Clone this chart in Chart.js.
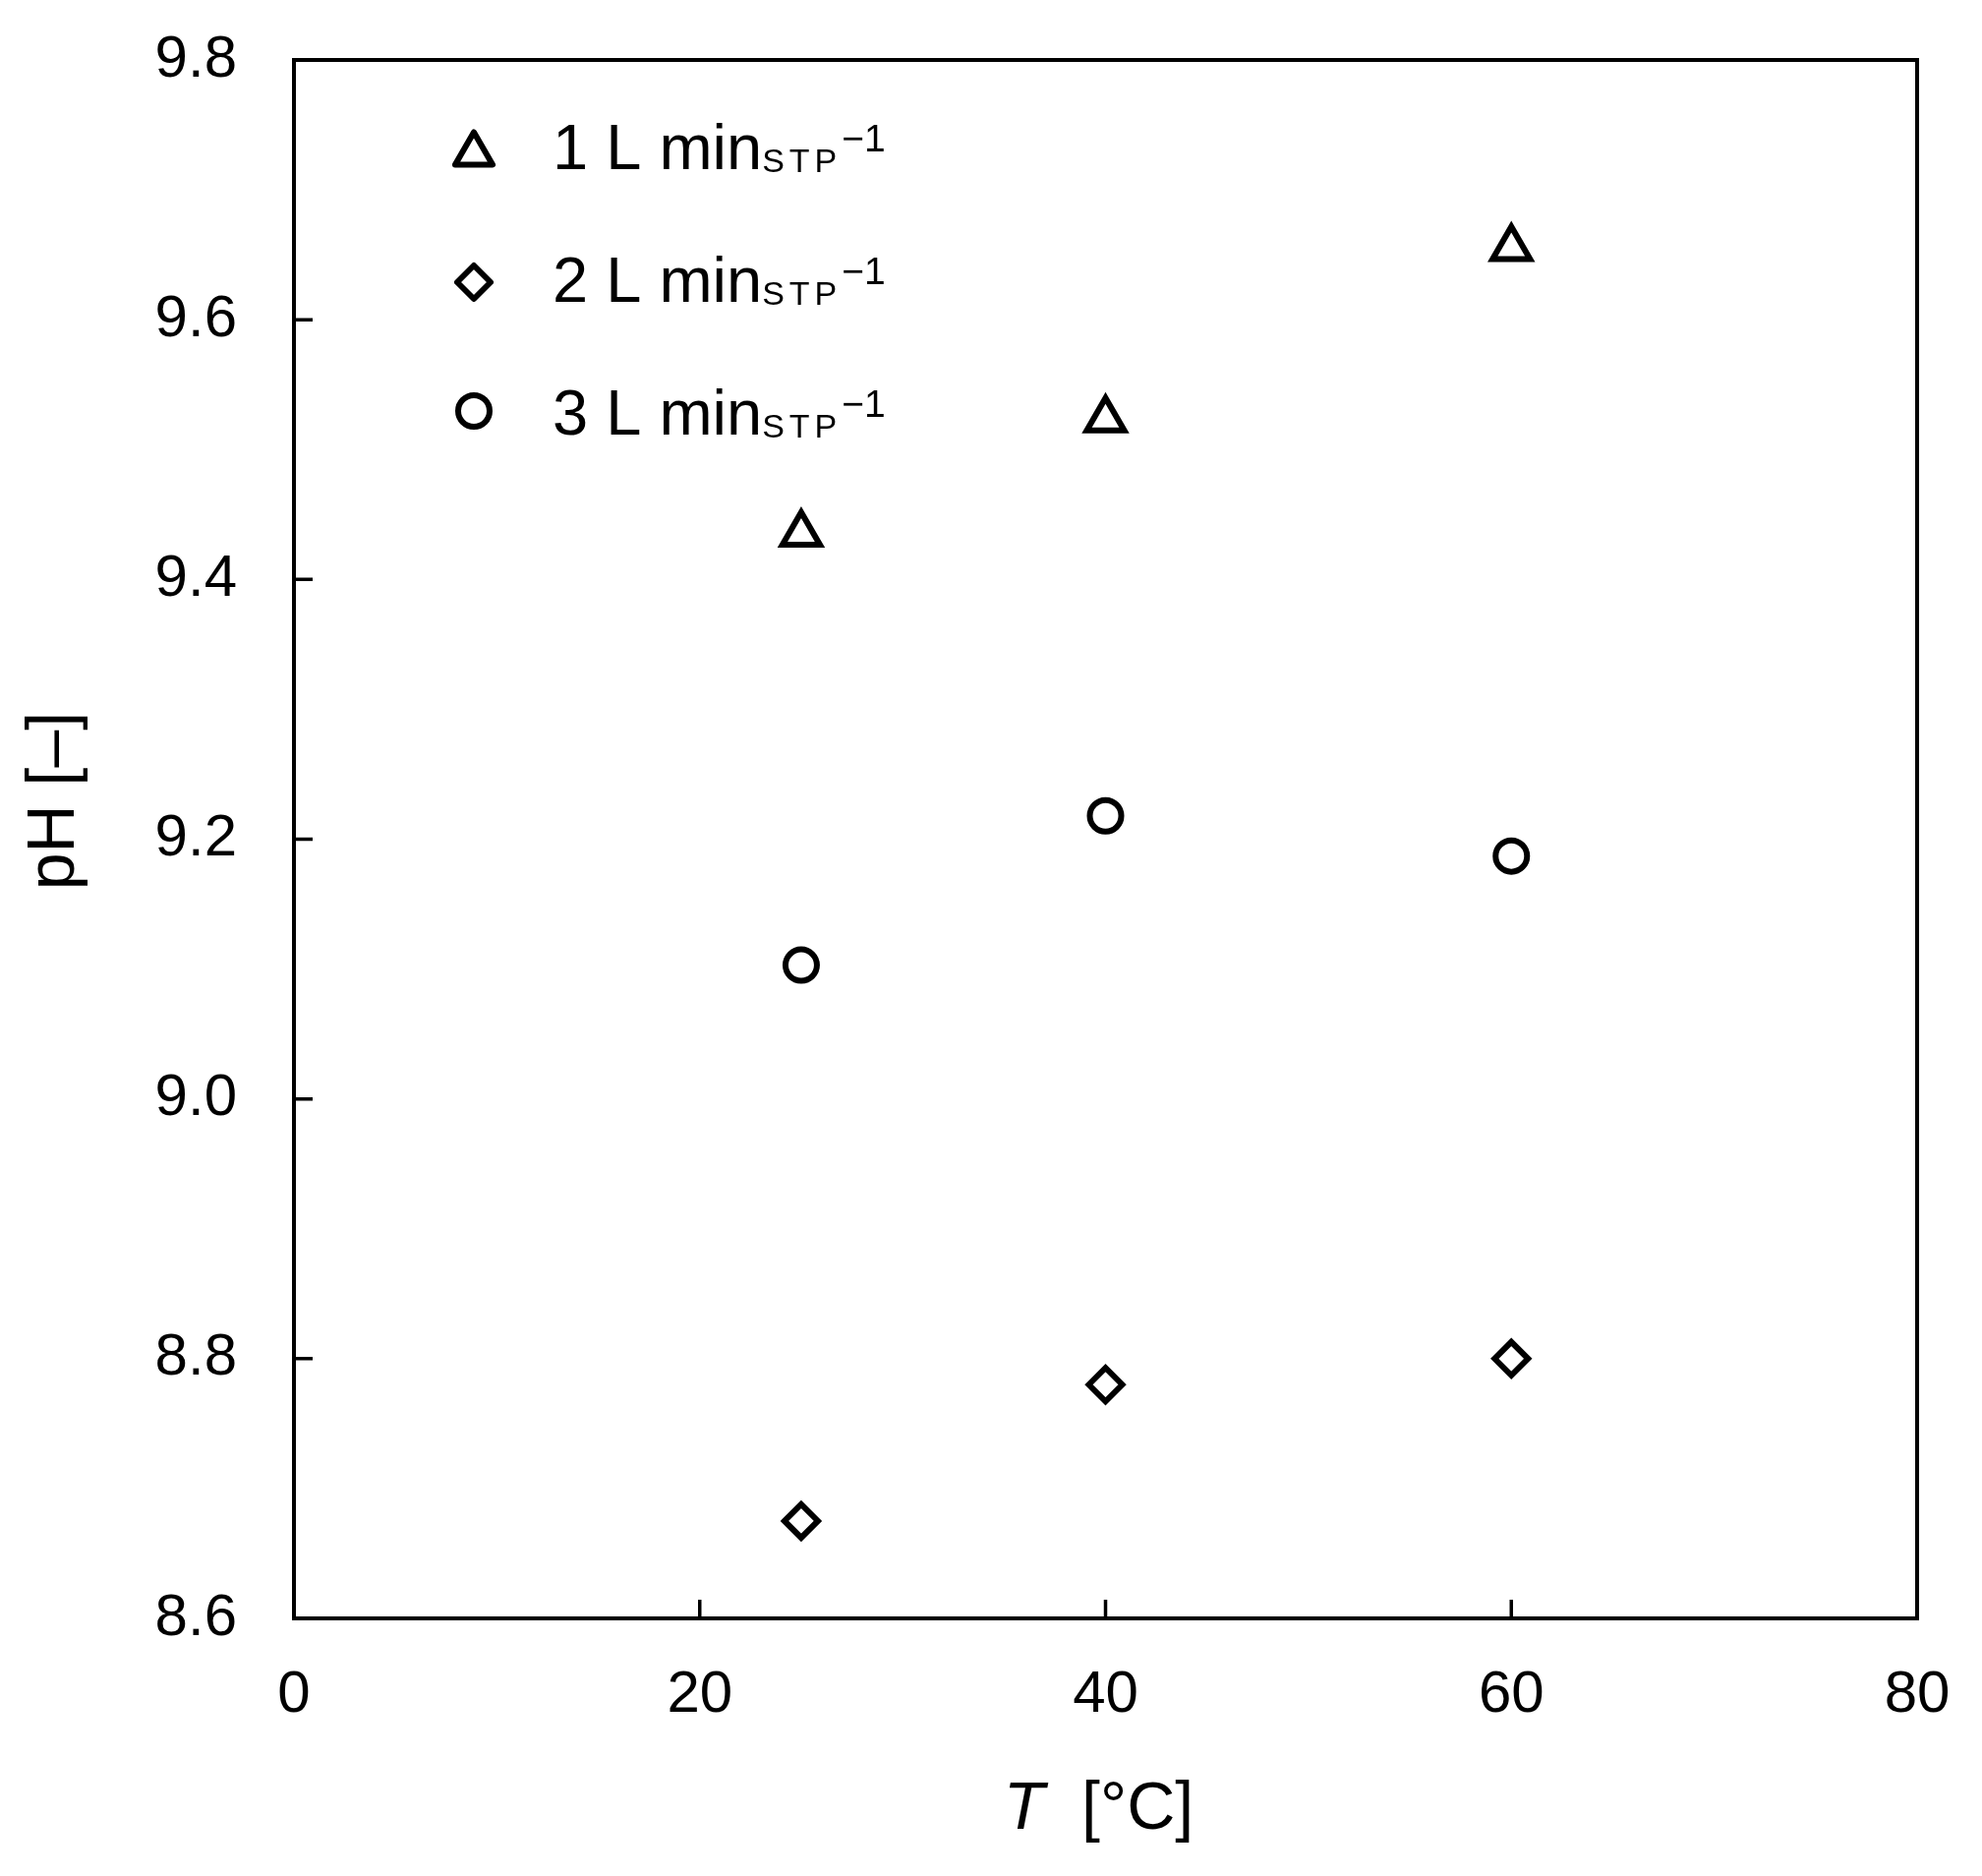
<!DOCTYPE html>
<html>
<head>
<meta charset="utf-8">
<script src="https://cdn.jsdelivr.net/npm/chart.js@4/dist/chart.umd.min.js"></script>
<style>
  html, body { margin: 0; padding: 0; background: #fff; }
  #wrap { width: 2016px; height: 1908px; position: relative; }
</style>
</head>
<body>
<div id="wrap"><canvas id="chart"></canvas></div>
<script>
// data
const temps = [25, 40, 60];                 // T [°C]
const ph1 = [9.435, 9.523, 9.655];          // 1 L min_STP^-1 (triangles)
const ph2 = [8.675, 8.780, 8.800];          // 2 L min_STP^-1 (diamonds)
const ph3 = [9.103, 9.218, 9.187];          // 3 L min_STP^-1 (circles)

const seriesLabels = ['1 L min', '2 L min', '3 L min'];
const labelSub = 'STP';
const labelSup = '\u22121';
const xTitle = ['T', '  [°C]'];
const yTitle = 'pH [\u2013]';

const FONT = '"Liberation Sans", Arial, sans-serif';

function pts(ys) {
    return temps.map((t, i) => ({ x: t, y: ys[i] }));
}

// draws a chart.js point style (uses helper when available)
function marker(ctx, style, r, x, y) {
    if (Chart.helpers && Chart.helpers.drawPoint) {
        Chart.helpers.drawPoint(ctx, { pointStyle: style, radius: r, borderWidth: 6, rotation: 0 }, x, y);
        return;
    }
    ctx.beginPath();
    if (style === 'circle') ctx.arc(x, y, r, 0, Math.PI * 2);
    else if (style === 'triangle') {
        ctx.moveTo(x, y - r);
        ctx.lineTo(x + r * 0.866, y + r / 2);
        ctx.lineTo(x - r * 0.866, y + r / 2);
        ctx.closePath();
    } else {
        ctx.moveTo(x, y - r); ctx.lineTo(x + r, y); ctx.lineTo(x, y + r); ctx.lineTo(x - r, y); ctx.closePath();
    }
    ctx.fill(); ctx.stroke();
}

// frame, inward ticks, legend and axis titles
const decor = {
    id: 'decor',
    afterDraw(chart) {
        const { ctx, chartArea: a, scales: { x, y } } = chart;
        ctx.save();
        ctx.strokeStyle = '#000';
        ctx.lineWidth = 4;
        ctx.strokeRect(a.left, a.top, a.right - a.left, a.bottom - a.top);

        ctx.lineWidth = 3.5;
        ctx.beginPath();
        x.ticks.forEach(t => {
            const px = x.getPixelForValue(t.value);
            ctx.moveTo(px, a.bottom);
            ctx.lineTo(px, a.bottom - 19);
        });
        y.ticks.forEach(t => {
            const py = y.getPixelForValue(t.value);
            ctx.moveTo(a.left, py);
            ctx.lineTo(a.left + 19, py);
        });
        ctx.stroke();

        // legend
        const markerOffset = { triangle: 15.5, rectRot: 20, circle: 24 };
        ctx.fillStyle = '#000';
        ctx.textBaseline = 'alphabetic';
        ctx.textAlign = 'left';
        chart.data.datasets.forEach((ds, i) => {
            const base = a.top + 111 + i * 135;
            const mx = a.left + 183;
            const my = base - markerOffset[ds.pointStyle];
            ctx.save();
            ctx.fillStyle = '#fff';
            ctx.strokeStyle = '#000';
            ctx.lineWidth = 6;
            ctx.lineJoin = 'round';
            marker(ctx, ds.pointStyle, ds.pointRadius, mx, my);
            ctx.restore();

            let tx = a.left + 263;
            ctx.font = '65px ' + FONT;
            ctx.fillText(seriesLabels[i], tx, base);
            tx += ctx.measureText(seriesLabels[i]).width;
            ctx.font = '34px ' + FONT;
            ctx.letterSpacing = '5px';
            ctx.fillText(labelSub, tx, base + 3.3);
            tx += ctx.measureText(labelSub).width;
            ctx.letterSpacing = '0px';
            ctx.font = '39px ' + FONT;
            ctx.fillText(labelSup, tx, base - 18.4);
        });

        // x title
        ctx.font = 'italic 68px ' + FONT;
        const w1 = ctx.measureText(xTitle[0]).width;
        ctx.font = '68px ' + FONT;
        const w2 = ctx.measureText(xTitle[1]).width;
        let sx = (a.left + a.right) / 2 - 7 - (w1 + w2) / 2;
        ctx.font = 'italic 68px ' + FONT;
        ctx.fillText(xTitle[0], sx, 1860);
        ctx.font = '68px ' + FONT;
        ctx.fillText(xTitle[1], sx + w1, 1860);

        // y title
        ctx.translate(75, (a.top + a.bottom) / 2 - 39);
        ctx.rotate(-Math.PI / 2);
        ctx.textAlign = 'center';
        ctx.fillText(yTitle, 0, 0);
        ctx.restore();
    }
};

const common = {
    showLine: false,
    backgroundColor: '#fff',
    borderColor: '#000',
    pointBorderWidth: 6,
    pointHoverRadius: 0
};

new Chart(document.getElementById('chart').getContext('2d'), {
    type: 'scatter',
    data: {
        datasets: [
            { ...common, label: seriesLabels[0], data: pts(ph1), pointStyle: 'triangle', pointRadius: 22 },
            { ...common, label: seriesLabels[1], data: pts(ph2), pointStyle: 'rectRot', pointRadius: 17 },
            { ...common, label: seriesLabels[2], data: pts(ph3), pointStyle: 'circle', pointRadius: 16 }
        ]
    },
    options: {
        responsive: true,
        maintainAspectRatio: false,
        animation: false,
        layout: { padding: { top: 61, right: 66, left: 0, bottom: 0 } },
        plugins: { legend: { display: false }, tooltip: { enabled: false } },
        scales: {
            x: {
                type: 'linear',
                min: 0, max: 80,
                ticks: { stepSize: 20, color: '#000', padding: 42, font: { family: FONT, size: 60 } },
                grid: { drawOnChartArea: false, drawTicks: false },
                border: { display: false },
                afterFit: s => { s.height = 262; s.paddingLeft = 0; s.paddingRight = 0; }
            },
            y: {
                type: 'linear',
                min: 8.6, max: 9.8,
                ticks: {
                    stepSize: 0.2, color: '#000', padding: 58,
                    font: { family: FONT, size: 60 },
                    callback: v => v.toFixed(1)
                },
                grid: { drawOnChartArea: false, drawTicks: false },
                border: { display: false },
                afterFit: s => { s.width = 299; s.paddingTop = 0; s.paddingBottom = 0; }
            }
        }
    },
    plugins: [decor]
});
</script>
</body>
</html>
